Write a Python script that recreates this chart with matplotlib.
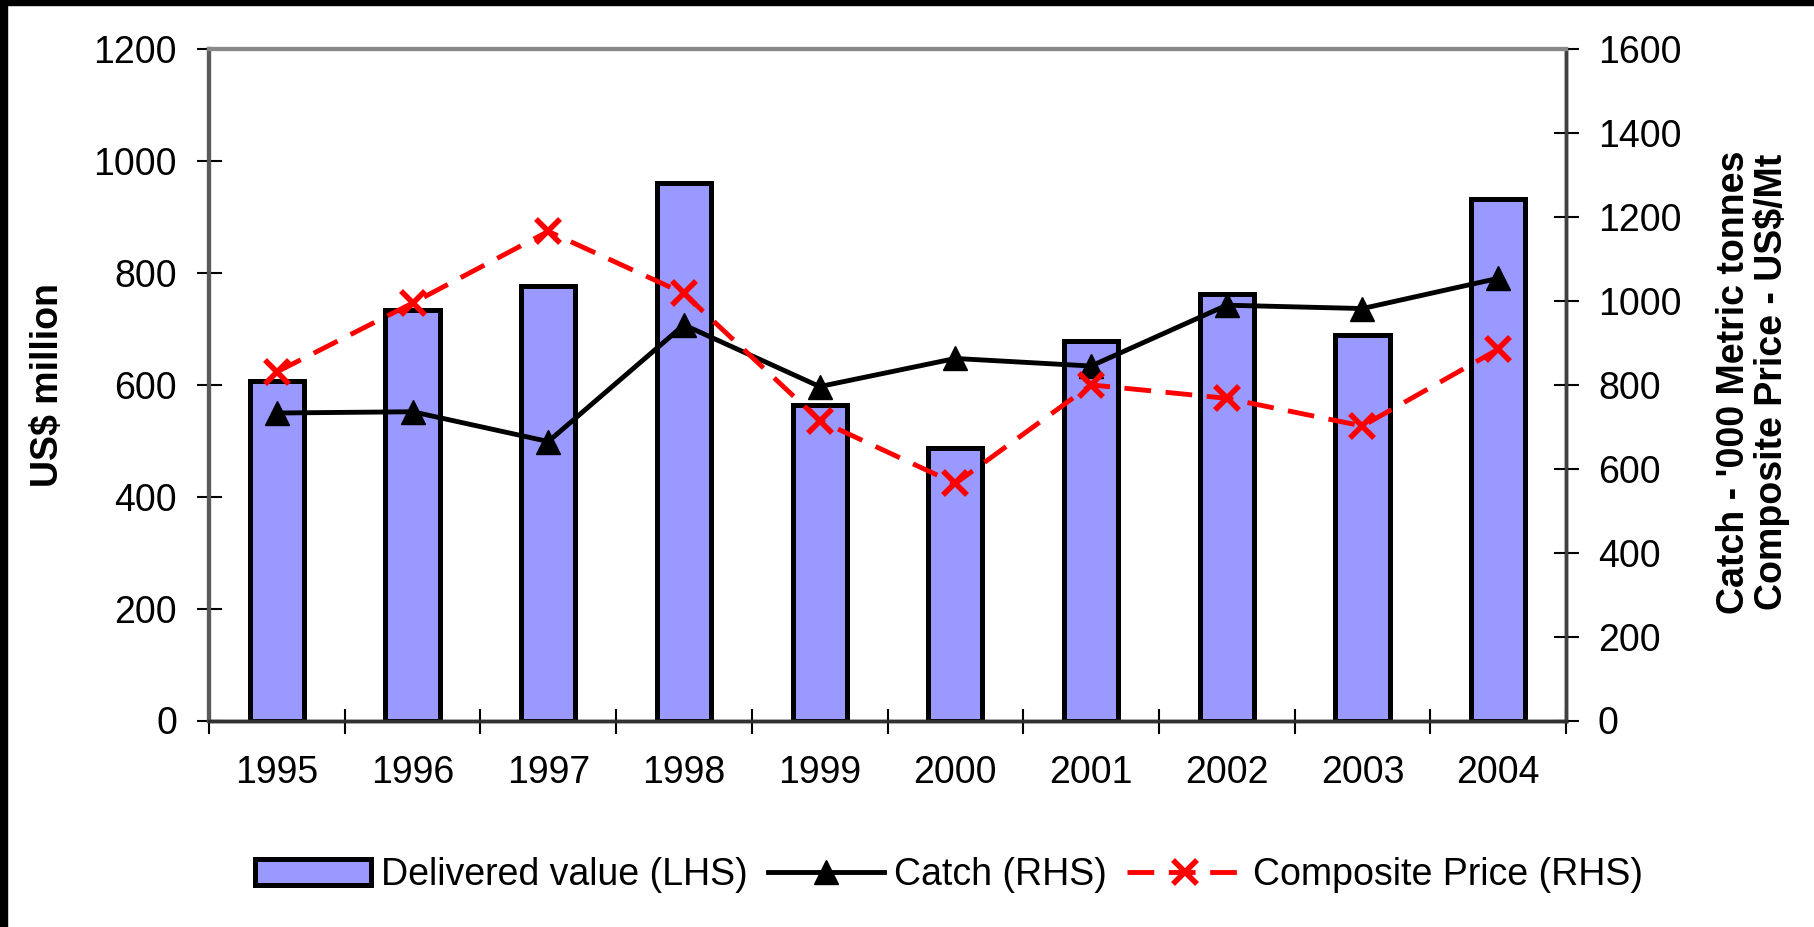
import numpy as np
import matplotlib
matplotlib.use("Agg")
import matplotlib.pyplot as plt
from matplotlib.patches import Rectangle

plt.rcParams['font.family'] = ['Liberation Sans', 'DejaVu Sans']

years = ['1995', '1996', '1997', '1998', '1999', '2000', '2001', '2002', '2003', '2004']
delivered_value = [607, 734, 776, 961, 564, 488, 679, 762, 690, 933]   # US$ million (LHS)
catch = [733, 736, 665, 943, 796, 863, 845, 990, 982, 1054]            # '000 t (RHS)
composite_price = [831, 995, 1166, 1018, 715, 565, 800, 768, 702, 885]  # US$/Mt (RHS)

W, H = 1814, 927
fig = plt.figure(figsize=(W / 100, H / 100), dpi=100)
fig.patch.set_facecolor('white')

# black frame strips on top and left edge of the original
fig.patches.append(Rectangle((0, 1 - 5 / H), 1, 5 / H, transform=fig.transFigure,
                             color='black', zorder=10))
fig.patches.append(Rectangle((0, 0), 7 / W, 1, transform=fig.transFigure,
                             color='black', zorder=10))

x0, x1, y0, y1 = 209, 1566, 49.3, 720.5
ax = fig.add_axes([x0 / W, 1 - y1 / H, (x1 - x0) / W, (y1 - y0) / H])
ax2 = ax.twinx()

x = np.arange(len(years))
bars = ax.bar(x, delivered_value, width=0.4, color='#9999ff', edgecolor='black',
              linewidth=3.6, label='Delivered value (LHS)', zorder=2)

l1, = ax2.plot(x, catch, color='black', lw=3.5, marker='^', ms=17,
               label='Catch (RHS)')
l2, = ax2.plot(x, composite_price, color='#ff0000', lw=3.5, ls=(0, (5.5, 3)),
               marker='x', ms=17, mew=4, label='Composite Price (RHS)')

ax.set_xlim(-0.5, 9.5)
ax.set_ylim(0, 1200)
ax2.set_ylim(0, 1600)
ax.set_yticks(np.arange(0, 1201, 200))
ax2.set_yticks(np.arange(0, 1601, 200))

ax.set_xticks(x)
ax.set_xticklabels(years)
ax.set_xticks(np.arange(-0.5, 10, 1), minor=True)
ax.tick_params(axis='x', which='major', length=0, pad=25, labelsize=27)
ax.tick_params(axis='x', which='minor', direction='inout', length=18, width=1.5)
ax.tick_params(axis='y', direction='inout', length=18, width=1.5, pad=14, labelsize=27)
ax2.tick_params(axis='y', direction='inout', length=18, width=1.5, pad=14, labelsize=27)

for a in (ax, ax2):
    a.spines['top'].set_color('#888888')
    a.spines['top'].set_linewidth(3)
    a.spines['left'].set_color('#5a5a5a')
    a.spines['left'].set_linewidth(3)
    a.spines['right'].set_color('#404040')
    a.spines['right'].set_linewidth(2.5)
    a.spines['bottom'].set_color('#303030')
    a.spines['bottom'].set_linewidth(2.5)

fig.text(48 / W, 1 - 385 / H, 'US$ million', rotation=90, ha='center', va='center',
         fontsize=27, fontweight='bold')
fig.text(1753 / W, 1 - 382 / H, "Catch - '000 Metric tonnes\nComposite Price - US$/Mt",
         rotation=90, ha='center', va='center', multialignment='center',
         fontsize=27, fontweight='bold', linespacing=1.0)

fig.legend([bars, l1, l2], [bars.get_label(), l1.get_label(), l2.get_label()],
           loc='center', bbox_to_anchor=(949 / W, 1 - 875 / H), ncol=3, frameon=False,
           fontsize=27, handlelength=3.1, handletextpad=0.25, columnspacing=0.55,
           borderaxespad=0)

fig.savefig('out.png', dpi=100, facecolor='white')
